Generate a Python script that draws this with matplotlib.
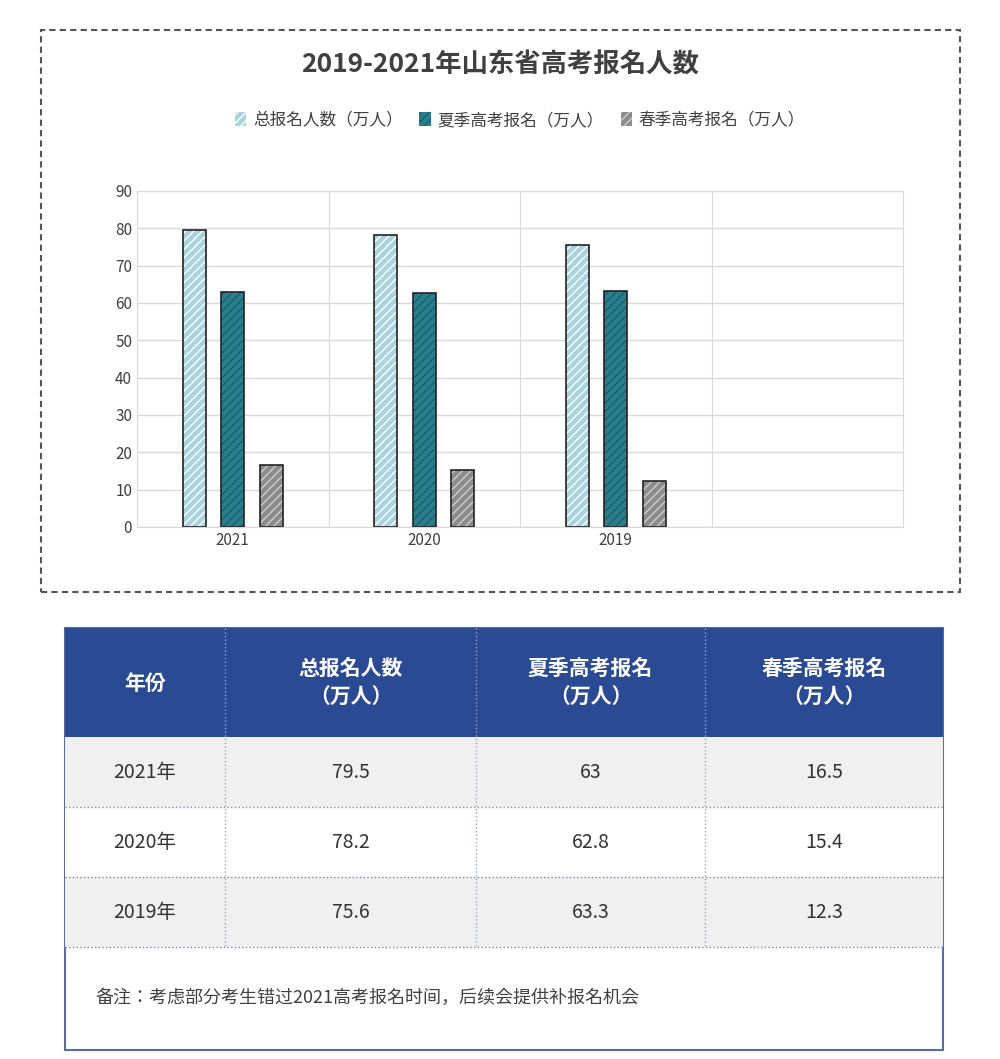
import matplotlib
matplotlib.use("Agg")
import matplotlib.pyplot as plt
from matplotlib.patches import Rectangle
from matplotlib import font_manager as fm
import numpy as np

cjk = None
for f in fm.findSystemFonts():
    if "CJK" in f and ("Regular" in f or "SC" in f or f.endswith(".ttc")):
        try:
            fm.fontManager.addfont(f)
            name = fm.FontProperties(fname=f).get_name()
            if cjk is None or "SC" in name:
                cjk = name
        except Exception:
            pass
plt.rcParams["font.family"] = [cjk or "Noto Sans CJK SC", "Noto Sans CJK SC", "DejaVu Sans"]

years = ["2021", "2020", "2019"]
total = [79.5, 78.2, 75.6]
summer = [63, 62.8, 63.3]
spring = [16.5, 15.4, 12.3]
series_names = ["总报名人数（万人）", "夏季高考报名（万人）", "春季高考报名（万人）"]
table_header = ["年份", "总报名人数\n（万人）", "夏季高考报名\n（万人）", "春季高考报名\n（万人）"]
table_rows = [["2021年", "79.5", "63", "16.5"],
              ["2020年", "78.2", "62.8", "15.4"],
              ["2019年", "75.6", "63.3", "12.3"]]
note = "备注：考虑部分考生错过2021高考报名时间，后续会提供补报名机会"

W, H = 1000, 1059
fig = plt.figure(figsize=(W/100, H/100), dpi=100)

def fx(x): return x / W
def fy(y): return 1 - y / H

fig.patches.append(Rectangle((fx(41), fy(592)), fx(960-41), (592-30)/H, transform=fig.transFigure,
                             fill=False, ls=(0, (3, 2)), lw=1.5, ec="#555555"))
fig.text(0.5, fy(65), "2019-2021年山东省高考报名人数", ha="center", va="center",
         fontsize=19, fontweight="bold", color="#404040")

ax = fig.add_axes([fx(137), fy(527), fx(903-137), (527-191)/H])
x = np.arange(len(years))
w = 0.12
cols = ["#a8d3df", "#2a7f8f", "#8c8c8c"]
hatch_ec = ["#ffffff", "#1f5f6b", "#cccccc"]
for i, (vals, c) in enumerate(zip([total, summer, spring], cols)):
    ax.bar(x + (i - 1) * 0.2, vals, w, color=c, hatch="////", edgecolor=hatch_ec[i],
           lw=0, label=series_names[i], zorder=3)
    ax.bar(x + (i - 1) * 0.2, vals, w, fill=False, edgecolor="#222222", lw=1.2, zorder=4)
ax.set_xlim(-0.5, 3.5)
ax.set_ylim(0, 90)
ax.set_yticks(range(0, 91, 10))
ax.set_xticks(x)
ax.set_xticklabels(years)
ax.tick_params(which="both", length=0, labelsize=11, colors="#404040")
ax.grid(True, color="#d9d9d9", lw=1, zorder=0)
ax.set_xticks([0.5, 1.5, 2.5], minor=True)
ax.grid(True, axis="x", which="minor", color="#d9d9d9")
ax.grid(False, axis="x", which="major")
for s in ax.spines.values():
    s.set_color("#d9d9d9")
ax.legend(loc="lower center", bbox_to_anchor=(0.5, 1.14), ncol=3, frameon=False, fontsize=12,
          handlelength=0.7, handleheight=0.9, columnspacing=1.0, handletextpad=0.4,
          labelcolor="#404040")

tx = [65, 225, 476, 705, 943]
ty = [628, 737, 807, 877, 947, 1050]
fig.patches.append(Rectangle((fx(65), fy(1050)), fx(943-65), (1050-628)/H, transform=fig.transFigure,
                             fill=False, ec="#5a6aa0", lw=1.5))
fig.patches.append(Rectangle((fx(65), fy(737)), fx(943-65), (737-628)/H, transform=fig.transFigure,
                             fc="#2b4a94", ec="none"))
for r in range(3):
    fc = "#f0f0f0" if r != 1 else "#ffffff"
    fig.patches.append(Rectangle((fx(65), fy(ty[r+2])), fx(943-65), 70/H, transform=fig.transFigure,
                                 fc=fc, ec="none"))
for yy in ty[2:5]:
    fig.add_artist(plt.Line2D([fx(65), fx(943)], [fy(yy), fy(yy)], transform=fig.transFigure,
                              ls=":", color="#7a86b0", lw=1))
for xx in tx[1:4]:
    fig.add_artist(plt.Line2D([fx(xx), fx(xx)], [fy(628), fy(947)], transform=fig.transFigure,
                              ls=":", color="#9aa4c8", lw=1))
for c in range(4):
    cx = fx((tx[c] + tx[c+1]) / 2)
    fig.text(cx, fy(683), table_header[c], ha="center", va="center", color="white",
             fontsize=15, fontweight="bold", linespacing=1.5)
    for r in range(3):
        fig.text(cx, fy((ty[r+1] + ty[r+2]) / 2), table_rows[r][c], ha="center", va="center",
                 color="#333333", fontsize=14)
fig.text(fx(95), fy(998), note, ha="left", va="center", fontsize=13, color="#404040")

fig.savefig("out.png", dpi=100, facecolor="white")
